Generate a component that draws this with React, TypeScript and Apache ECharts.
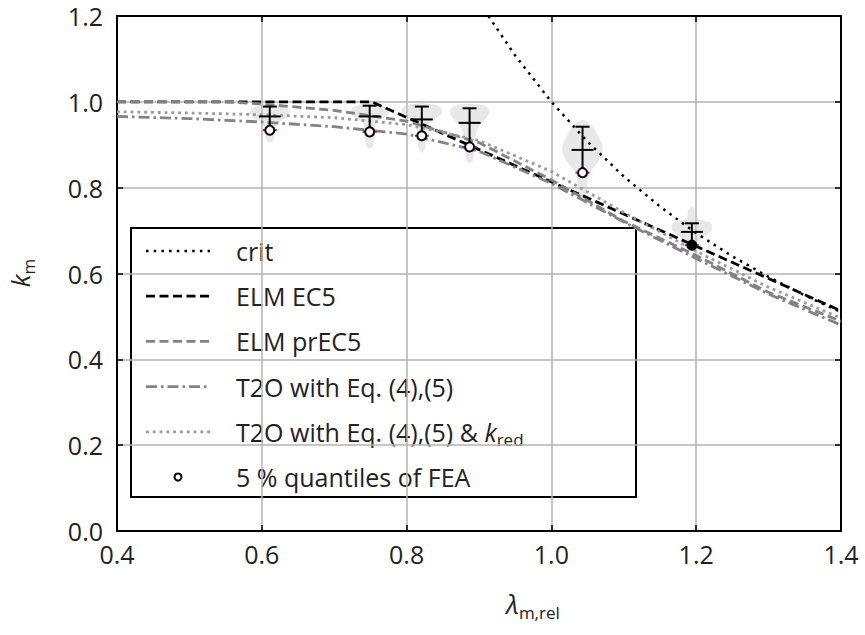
import React, { useEffect, useRef } from "react";
import * as echarts from "echarts";

// ---------- data ----------
const xTicks = [0.4, 0.6, 0.8, 1.0, 1.2, 1.4];
const yTicks = [0.0, 0.2, 0.4, 0.6, 0.8, 1.0, 1.2];

const critLambda = [0.913, 0.95, 1.0, 1.05, 1.1, 1.15, 1.2, 1.25, 1.3, 1.35, 1.4];
const critKm = [1.2, 1.108, 1.0, 0.907, 0.826, 0.756, 0.694, 0.64, 0.592, 0.549, 0.51];

const ec5Lambda = [0.4, 0.752, 1.4];
const ec5Km = [1.0, 1.0, 0.513];

const curveLambda = [0.4, 0.5, 0.55, 0.6, 0.7, 0.8, 0.9, 1.0, 1.1, 1.2, 1.3, 1.4];
const prEC5Km = [1.0, 1.0, 1.0, 0.995, 0.98, 0.955, 0.905, 0.818, 0.722, 0.642, 0.556, 0.489];
const t2oKm = [0.966, 0.961, 0.957, 0.953, 0.942, 0.925, 0.885, 0.81, 0.72, 0.635, 0.552, 0.48];
const t2oRedKm = [0.977, 0.974, 0.972, 0.97, 0.963, 0.947, 0.91, 0.838, 0.742, 0.652, 0.568, 0.496];

const feaLambda = [0.611, 0.749, 0.821, 0.887, 1.043, 1.194];
const feaMax = [0.989, 0.991, 0.989, 0.985, 0.942, 0.717];
const feaMean = [0.966, 0.966, 0.959, 0.951, 0.888, 0.697];
const feaQ05 = [0.934, 0.93, 0.921, 0.895, 0.835, 0.666];
const feaQ05Filled = [false, false, false, false, false, true];

// violin outlines: [k_m, half width in lambda units]
const feaViolins: number[][][] = [
  [[0.996, 0.004], [0.99, 0.018], [0.982, 0.026], [0.972, 0.027], [0.962, 0.022], [0.952, 0.012], [0.942, 0.008], [0.93, 0.007], [0.918, 0.006], [0.908, 0.004], [0.905, 0]],
  [[0.996, 0.005], [0.99, 0.02], [0.98, 0.026], [0.97, 0.025], [0.96, 0.016], [0.95, 0.009], [0.93, 0.007], [0.91, 0.006], [0.895, 0.004], [0.891, 0]],
  [[0.996, 0.006], [0.99, 0.024], [0.98, 0.028], [0.97, 0.026], [0.96, 0.018], [0.95, 0.01], [0.93, 0.007], [0.91, 0.006], [0.89, 0.004], [0.88, 0]],
  [[0.995, 0.008], [0.99, 0.022], [0.98, 0.027], [0.97, 0.026], [0.96, 0.022], [0.95, 0.016], [0.94, 0.012], [0.925, 0.009], [0.905, 0.007], [0.885, 0.006], [0.865, 0.005], [0.856, 0]],
  [[0.958, 0], [0.952, 0.008], [0.942, 0.014], [0.925, 0.02], [0.905, 0.026], [0.89, 0.028], [0.875, 0.026], [0.857, 0.02], [0.84, 0.012], [0.825, 0.008], [0.8, 0.006], [0.78, 0.004], [0.771, 0]],
  [[0.756, 0], [0.75, 0.005], [0.735, 0.006], [0.726, 0.01], [0.72, 0.024], [0.71, 0.028], [0.7, 0.027], [0.69, 0.02], [0.68, 0.012], [0.67, 0.007], [0.66, 0]],
];

const legendLabels = [
  "crit",
  "ELM EC5",
  "ELM prEC5",
  "T2O with Eq. (4),(5)",
  "T2O with Eq. (4),(5) & {i|k}{sub|red}",
  "5 % quantiles of FEA",
];

const FONT = "'Open Sans', 'Noto Sans', sans-serif";
const TXT = "#222222";
const GRAY = "#838383";
const LGRAY = "#9a9a9a";
const FS = 25;

const lineStyles: any[] = [
  { color: "#000", width: 2.5, type: [2.5, 5.2] },
  { color: "#000", width: 2.8, type: [9, 4.5] },
  { color: GRAY, width: 2.8, type: [9, 4.5] },
  { color: GRAY, width: 2.8, type: [11, 4, 2.5, 4] },
  { color: LGRAY, width: 2.8, type: [2.8, 4] },
];

export default function App() {
  const ref = useRef<HTMLDivElement>(null);

  useEffect(() => {
    if (!ref.current) return;
    const chart = echarts.init(ref.current, undefined, { renderer: "svg" });

    const L = 117, R = 841, T = 16, B = 531;

    const pair = (xs: number[], ys: number[]) => xs.map((x, i) => [x, ys[i]]);

    const lineSeries = [
      pair(critLambda, critKm),
      pair(ec5Lambda, ec5Km),
      pair(curveLambda, prEC5Km),
      pair(curveLambda, t2oKm),
      pair(curveLambda, t2oRedKm),
    ].map((data, i) => ({
      type: "line",
      data,
      symbol: "none",
      lineStyle: lineStyles[i],
      z: 3,
      clip: true,
    }));

    const feaData = feaLambda.map((l, i) => [l, feaMean[i]]);

    const violinSeries = {
      type: "custom",
      data: feaData,
      z: 2,
      clip: false,
      renderItem: (params: any, api: any) => {
        const i = params.dataIndex;
        const c = feaLambda[i];
        const prof = feaViolins[i];
        const right = prof.map(([k, w]) => api.coord([c + w, k]));
        const left = prof.slice().reverse().map(([k, w]) => api.coord([c - w, k]));
        return {
          type: "polygon",
          shape: { points: [...right, ...left], smooth: 0.35 },
          style: { fill: "rgba(205,205,205,0.45)", stroke: "none" },
        };
      },
    };

    const barSeries = {
      type: "custom",
      data: feaData,
      z: 5,
      clip: false,
      renderItem: (params: any, api: any) => {
        const i = params.dataIndex;
        const c = feaLambda[i];
        const pMax = api.coord([c, feaMax[i]]);
        const pMean = api.coord([c, feaMean[i]]);
        const pQ = api.coord([c, feaQ05[i]]);
        const st = { stroke: "#000", lineWidth: 2 };
        return {
          type: "group",
          children: [
            { type: "line", shape: { x1: pMax[0], y1: pMax[1], x2: pQ[0], y2: pQ[1] }, style: st },
            { type: "line", shape: { x1: pMax[0] - 7, y1: pMax[1], x2: pMax[0] + 7, y2: pMax[1] }, style: st },
            { type: "line", shape: { x1: pMean[0] - 11, y1: pMean[1], x2: pMean[0] + 11, y2: pMean[1] }, style: st },
            { type: "line", shape: { x1: pQ[0] - 7, y1: pQ[1], x2: pQ[0] + 7, y2: pQ[1] }, style: { stroke: "#c000c0", lineWidth: 2 } },
            {
              type: "circle",
              shape: { cx: pQ[0], cy: pQ[1], r: 4.5 },
              style: { fill: feaQ05Filled[i] ? "#000" : "#fff", stroke: "#000", lineWidth: 2 },
            },
          ],
        };
      },
    };

    // legend drawn as graphics
    const lgX = 131, lgY = 228, lgW = 505, lgH = 269;
    const rowY0 = 251, rowDY = 45.2;
    const legendChildren: any[] = [
      { type: "rect", shape: { x: lgX, y: lgY, width: lgW, height: lgH }, style: { fill: "#fff", stroke: "#000", lineWidth: 2 } },
    ];
    legendLabels.forEach((lab, i) => {
      const y = rowY0 + i * rowDY;
      if (i < 5) {
        const ls = lineStyles[i];
        legendChildren.push({
          type: "line",
          shape: { x1: 146, y1: y, x2: 210, y2: y },
          style: { stroke: ls.color, lineWidth: ls.width, lineDash: ls.type },
        });
      } else {
        legendChildren.push({
          type: "circle",
          shape: { cx: 178, cy: y, r: 3.5 },
          style: { fill: "#fff", stroke: "#000", lineWidth: 2 },
        });
      }
      legendChildren.push({
        type: "text",
        x: 236,
        y,
        style: {
          text: lab,
          fontFamily: FONT,
          fontSize: FS,
          fill: TXT,
          verticalAlign: "middle",
          align: "left",
          rich: {
            i: { fontFamily: FONT, fontSize: FS, fontStyle: "italic", fill: TXT, lineHeight: 32, verticalAlign: "middle" },
            sub: { fontFamily: FONT, fontSize: 17, fill: TXT, lineHeight: 32, verticalAlign: "bottom", padding: [12, 0, 0, 0] },
          },
        },
      });
    });

    const option: any = {
      animation: false,
      backgroundColor: "#fff",
      grid: { left: L, right: 865 - R, top: T, bottom: 635 - B, containLabel: false },
      xAxis: [
        {
          type: "value", min: 0.4, max: 1.4, interval: 0.2,
          axisLine: { show: true, onZero: false, lineStyle: { color: "#000", width: 2 } },
          axisTick: { show: true, inside: true, length: 6, lineStyle: { color: "#000", width: 1.5 } },
          axisLabel: { margin: 10, fontFamily: FONT, fontSize: FS, color: TXT, formatter: (v: number) => v.toFixed(1) },
          splitLine: { show: true, lineStyle: { color: "#b3b3b3", width: 1.5 } },
        },
        {
          type: "value", position: "top", min: 0.4, max: 1.4, interval: 0.2,
          axisLine: { show: true, onZero: false, lineStyle: { color: "#000", width: 2 } },
          axisTick: { show: true, inside: true, length: 6, lineStyle: { color: "#000", width: 1.5 } },
          axisLabel: { show: false },
          splitLine: { show: false },
        },
      ],
      yAxis: [
        {
          type: "value", min: 0, max: 1.2, interval: 0.2,
          axisLine: { show: true, onZero: false, lineStyle: { color: "#000", width: 2 } },
          axisTick: { show: true, inside: true, length: 6, lineStyle: { color: "#000", width: 1.5 } },
          axisLabel: { margin: 14, fontFamily: FONT, fontSize: FS, color: TXT, formatter: (v: number) => v.toFixed(1) },
          splitLine: { show: true, lineStyle: { color: "#b3b3b3", width: 1.5 } },
        },
        {
          type: "value", position: "right", min: 0, max: 1.2, interval: 0.2,
          axisLine: { show: true, onZero: false, lineStyle: { color: "#000", width: 2 } },
          axisTick: { show: true, inside: true, length: 6, lineStyle: { color: "#000", width: 1.5 } },
          axisLabel: { show: false },
          splitLine: { show: false },
        },
      ],
      series: [violinSeries, ...lineSeries, barSeries],
      graphic: [
        { type: "group", z: 100, children: legendChildren },
        {
          type: "text",
          x: 20,
          y: 273,
          rotation: Math.PI / 2,
          z: 100,
          style: {
            text: "{i|k}{sub|m}",
            align: "center",
            verticalAlign: "middle",
            rich: {
              i: { fontFamily: FONT, fontSize: 26, fontStyle: "italic", fill: TXT, lineHeight: 34, verticalAlign: "middle" },
              sub: { fontFamily: FONT, fontSize: 17, fill: TXT, lineHeight: 34, verticalAlign: "bottom", padding: [12, 0, 0, 0] },
            },
          },
        },
        {
          type: "text",
          x: 533,
          y: 604,
          z: 100,
          style: {
            text: "{i|λ}{sub|m,rel}",
            align: "center",
            verticalAlign: "middle",
            rich: {
              i: { fontFamily: FONT, fontSize: 26, fontStyle: "italic", fill: TXT, lineHeight: 34, verticalAlign: "middle" },
              sub: { fontFamily: FONT, fontSize: 17, fill: TXT, lineHeight: 34, verticalAlign: "bottom", padding: [12, 0, 0, 0] },
            },
          },
        },
      ],
    };

    chart.setOption(option);
    return () => chart.dispose();
  }, []);

  return (
    <div
      ref={ref}
      style={{ position: "absolute", left: 0, top: 0, width: 865, height: 635, background: "#fff" }}
    />
  );
}
